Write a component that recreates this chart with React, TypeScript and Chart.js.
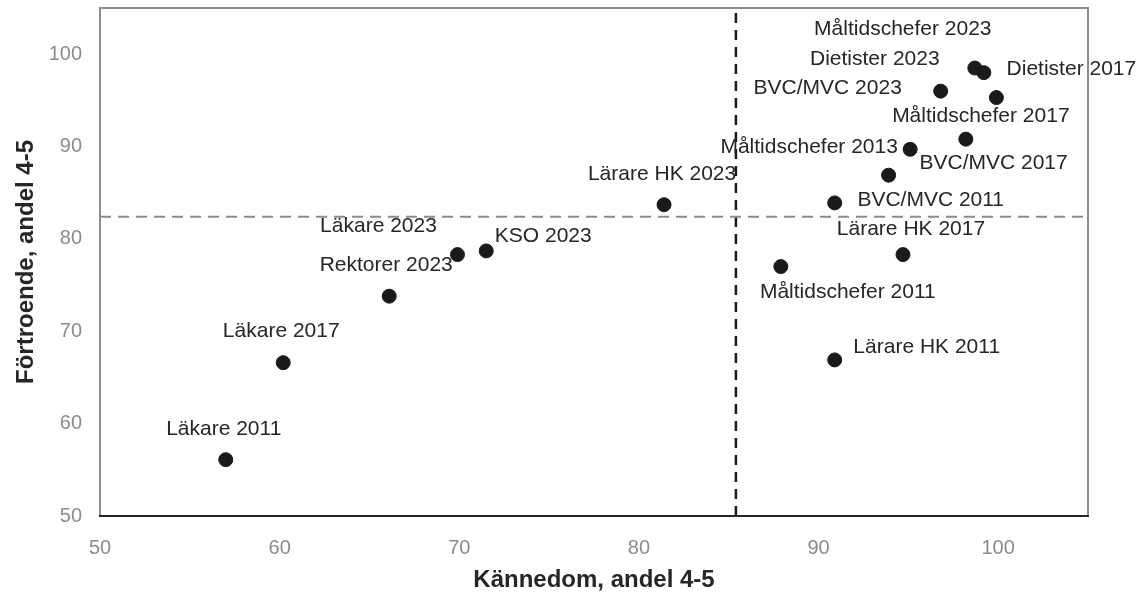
import React, { useEffect, useRef } from "react";
import { Chart, registerables } from "chart.js";

Chart.register(...registerables);

// ---- Data ----
const POINT_LABELS = [
  "Läkare 2011",
  "Läkare 2017",
  "Rektorer 2023",
  "Läkare 2023",
  "KSO 2023",
  "Lärare HK 2023",
  "Måltidschefer 2011",
  "Lärare HK 2017",
  "Lärare HK 2011",
  "BVC/MVC 2011",
  "BVC/MVC 2017",
  "Måltidschefer 2013",
  "Måltidschefer 2017",
  "BVC/MVC 2023",
  "Dietister 2017",
  "Dietister 2023",
  "Måltidschefer 2023",
];
// Kännedom, andel 4-5
const KNOWLEDGE = [57.0, 60.2, 66.1, 69.9, 71.5, 81.4, 87.9, 94.7, 90.9, 90.9, 93.9, 95.1, 98.2, 96.8, 99.9, 99.2, 98.7];
// Förtroende, andel 4-5
const TRUST = [56.1, 66.6, 73.8, 78.3, 78.7, 83.7, 77.0, 78.3, 66.9, 83.9, 86.9, 89.7, 90.8, 96.0, 95.3, 98.0, 98.5];

// reference lines (averages)
const KNOWLEDGE_REF = 85.4;
const TRUST_REF = 82.4;

const X_TICKS = [50, 60, 70, 80, 90, 100];
const Y_TICKS = [50, 60, 70, 80, 90, 100];
const AXIS_MIN = 50;
const AXIS_MAX = 105;

// ---- Label placement (pixel offsets from each point) ----
const LABEL_OFFSETS: [number, number][] = [
  [-2, -30],
  [-2, -31],
  [-3, -31],
  [-79, -28],
  [57, -15],
  [-2, -31],
  [67, 26],
  [8, -25],
  [92, -13],
  [96, -3],
  [105, -12],
  [-101, -2],
  [15, -23],
  [-113, -3],
  [75, -28],
  [-109, -13],
  [-72, -39],
];

const FONT = "'Liberation Sans', Arial, sans-serif";

export default function App() {
  const ref = useRef<HTMLCanvasElement | null>(null);

  useEffect(() => {
    if (!ref.current) return;

    const frame = {
      id: "frame",
      beforeDatasetsDraw(chart: any) {
        const { ctx, chartArea: a } = chart;
        ctx.save();
        ctx.strokeStyle = "#8c8c8c";
        ctx.lineWidth = 2;
        ctx.strokeRect(a.left, a.top, a.right - a.left, a.bottom - a.top);
        ctx.strokeStyle = "#262626";
        ctx.beginPath();
        ctx.moveTo(a.left - 1, a.bottom);
        ctx.lineTo(a.right + 1, a.bottom);
        ctx.stroke();
        ctx.restore();
      },
    };

    const pointLabels = {
      id: "pointLabels",
      afterDatasetsDraw(chart: any) {
        const { ctx } = chart;
        const meta = chart.getDatasetMeta(2);
        ctx.save();
        ctx.font = `21px ${FONT}`;
        ctx.fillStyle = "#262626";
        ctx.textAlign = "center";
        ctx.textBaseline = "middle";
        meta.data.forEach((el: any, i: number) => {
          const [dx, dy] = LABEL_OFFSETS[i];
          ctx.fillText(POINT_LABELS[i], el.x + dx, el.y + dy);
        });
        ctx.restore();
      },
    };

    const chart = new Chart(ref.current, {
      type: "scatter",
      data: {
        datasets: [
          {
            type: "line",
            data: [
              { x: AXIS_MIN, y: TRUST_REF },
              { x: AXIS_MAX, y: TRUST_REF },
            ],
            borderColor: "#8c8c8c",
            borderWidth: 2,
            borderDash: [11, 7],
            pointRadius: 0,
            fill: false,
          } as any,
          {
            type: "line",
            data: [
              { x: KNOWLEDGE_REF, y: AXIS_MIN },
              { x: KNOWLEDGE_REF, y: AXIS_MAX },
            ],
            borderColor: "#1a1a1a",
            borderWidth: 2.5,
            borderDash: [10, 7],
            pointRadius: 0,
            fill: false,
          } as any,
          {
            data: KNOWLEDGE.map((x, i) => ({ x, y: TRUST[i] })),
            backgroundColor: "#1a1a1a",
            borderColor: "#1a1a1a",
            pointRadius: 7,
            pointHoverRadius: 7,
          },
        ],
      },
      options: {
        animation: false,
        responsive: false,
        maintainAspectRatio: false,
        layout: { padding: { top: 7, right: 56, bottom: 0, left: 0 } },
        plugins: {
          legend: { display: false },
          tooltip: { enabled: false },
        },
        scales: {
          x: {
            type: "linear",
            min: AXIS_MIN,
            max: AXIS_MAX,
            grid: { display: false, drawTicks: false },
            border: { display: false },
            afterBuildTicks: (s: any) => {
              s.ticks = X_TICKS.map((v) => ({ value: v }));
            },
            afterFit: (s: any) => {
              s.height = 83;
              s.paddingLeft = 0;
              s.paddingRight = 0;
              s.paddingTop = 0;
              s.paddingBottom = 0;
            },
            ticks: {
              padding: 20,
              color: "#8c8c8c",
              font: { family: FONT, size: 20 },
              maxRotation: 0,
              autoSkip: false,
            },
            title: {
              display: true,
              text: "Kännedom, andel 4-5",
              color: "#262626",
              font: { family: FONT, size: 24, weight: "bold" },
              padding: { top: 0, bottom: 4 },
            },
          },
          y: {
            type: "linear",
            min: AXIS_MIN,
            max: AXIS_MAX,
            grid: { display: false, drawTicks: false },
            border: { display: false },
            afterBuildTicks: (s: any) => {
              s.ticks = Y_TICKS.map((v) => ({ value: v }));
            },
            afterFit: (s: any) => {
              s.width = 100;
              s.paddingLeft = 0;
              s.paddingRight = 0;
              s.paddingTop = 0;
              s.paddingBottom = 0;
            },
            ticks: {
              padding: 18,
              color: "#8c8c8c",
              font: { family: FONT, size: 20 },
              autoSkip: false,
            },
            title: {
              display: true,
              text: "Förtroende, andel 4-5",
              color: "#262626",
              font: { family: FONT, size: 24, weight: "bold" },
              padding: { top: 12, bottom: 0 },
            },
          },
        },
      },
      plugins: [frame, pointLabels],
    });

    return () => chart.destroy();
  }, []);

  return (
    <div style={{ position: "fixed", left: 0, top: 0, width: 1144, height: 599, background: "#fff" }}>
      <canvas ref={ref} width={1144} height={599} style={{ width: 1144, height: 599, display: "block" }} />
    </div>
  );
}
